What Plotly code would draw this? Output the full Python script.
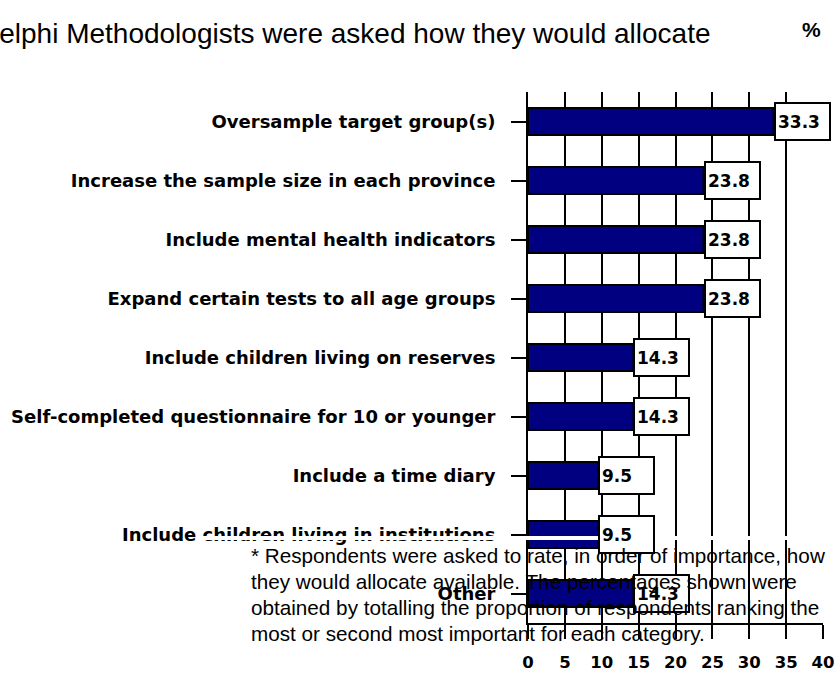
import plotly.graph_objects as go

# Survey options and the share of respondents ranking each first or second (%)
categories = [
    "Oversample target group(s)",
    "Increase the sample size in each province",
    "Include mental health indicators",
    "Expand certain tests to all age groups",
    "Include children living on reserves",
    "Self-completed questionnaire for 10 or younger",
    "Include a time diary",
    "Include children living in institutions",
    "Other",
]
percent = [33.3, 23.8, 23.8, 23.8, 14.3, 14.3, 9.5, 9.5, 14.3]
x_ticks = [0, 5, 10, 15, 20, 25, 30, 35, 40]

title_text = "Delphi Methodologists were asked how they would allocate"
footnote_lines = [
    "* Respondents were asked to rate, in order of importance, how",
    "they would allocate available. The percentages shown were",
    "obtained by totalling the proportion of respondents ranking the",
    "most or second most important for each category.",
]

W, H = 836, 673
L, R, T, B = 528, 13, 92, 50
PW, PH = W - L - R, H - T - B


def px_x(x):
    return (x - L) / PW


def px_y(y):
    return (H - B - y) / PH


BOLD = "DejaVu Sans"
PLAIN = "Liberation Sans"
NAVY = "#000080"

fig = go.Figure(
    go.Bar(
        x=percent,
        y=categories,
        orientation="h",
        width=0.46,
        marker=dict(color=NAVY, line=dict(color="black", width=2)),
        hoverinfo="skip",
    )
)

annotations = []
for cat, v in zip(categories, percent):
    annotations.append(
        dict(
            x=v, y=cat, xref="x", yref="y",
            text=f"<b>{v:.1f}</b>",
            showarrow=False, xanchor="left", yanchor="middle",
            align="left", width=49, height=31,
            bgcolor="white", bordercolor="black", borderwidth=2, borderpad=2,
            font=dict(family=BOLD, size=17, color="black"),
        )
    )

annotations.append(
    dict(
        x=px_x(713), y=px_y(34), xref="paper", yref="paper",
        text=title_text, showarrow=False, xanchor="right", yanchor="middle",
        font=dict(family=PLAIN, size=28, color="black"),
    )
)
annotations.append(
    dict(
        x=px_x(811), y=px_y(29), xref="paper", yref="paper",
        text="<b>%</b>", showarrow=False, xanchor="center", yanchor="middle",
        font=dict(family=PLAIN, size=21, color="black"),
    )
)
for i, line in enumerate(footnote_lines):
    annotations.append(
        dict(
            x=px_x(249), y=px_y(555 + 26.3 * i), xref="paper", yref="paper",
            text=line, showarrow=False, xanchor="left", yanchor="middle",
            align="left",
            font=dict(family=PLAIN, size=20.7, color="black"),
        )
    )

fig.update_layout(
    width=W, height=H,
    margin=dict(l=L, r=R, t=T, b=B, pad=0, autoexpand=False),
    paper_bgcolor="white", plot_bgcolor="white",
    showlegend=False,
    annotations=annotations,
    shapes=[
        dict(
            type="rect", xref="paper", yref="paper",
            x0=px_x(200), x1=px_x(W), y0=px_y(540), y1=px_y(536),
            fillcolor="white", line=dict(width=0), layer="above",
        )
    ],
    xaxis=dict(
        range=[0, 40], tickmode="array", tickvals=x_ticks,
        ticktext=[f"<b>{t}</b>" for t in x_ticks],
        showgrid=True, gridcolor="black", gridwidth=2,
        showline=True, linecolor="black", linewidth=2,
        ticks="outside", ticklen=14, tickwidth=2, tickcolor="black",
        tickfont=dict(family=BOLD, size=16.5, color="black"),
        ticklabelstandoff=9, automargin=False,
        zeroline=False, fixedrange=True,
    ),
    yaxis=dict(
        type="category", range=[len(categories) - 0.5, -0.5],
        tickmode="array", tickvals=categories,
        ticktext=[f"<b>{c}</b>" for c in categories],
        showgrid=False,
        showline=True, linecolor="black", linewidth=2,
        ticks="outside", ticklen=15, tickwidth=2, tickcolor="black",
        tickfont=dict(family=BOLD, size=18, color="black"),
        ticklabelstandoff=12, automargin=False,
        zeroline=False, fixedrange=True,
    ),
)

fig.write_html("out.html")
